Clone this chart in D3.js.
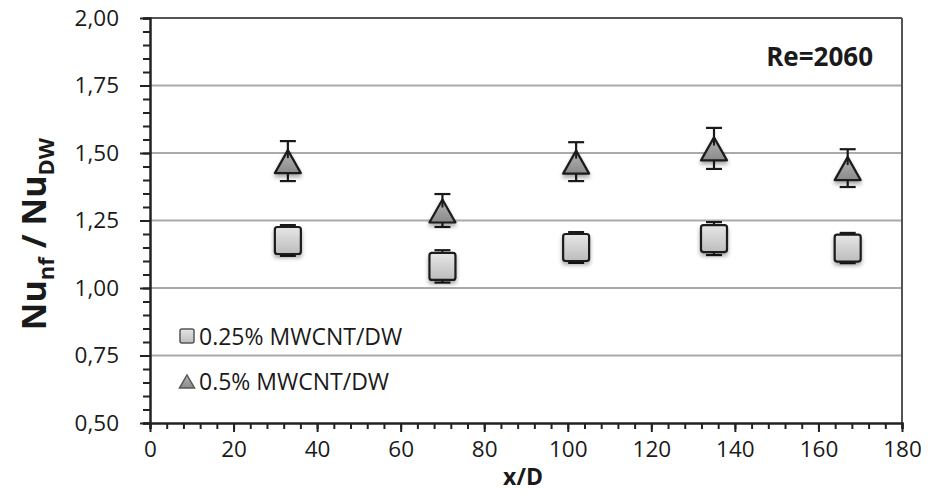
<!DOCTYPE html>
<html><head><meta charset="utf-8">
<script src="https://cdn.jsdelivr.net/npm/d3@7"></script>
<style>
body{margin:0;background:#fff;}
text{font-family:"Open Sans",sans-serif;fill:#1a1a1a;}
</style></head>
<body><svg id="c" width="939" height="493"></svg>
<script>
const xPos = [33, 70, 102, 135, 167];
const sqValues = [1.176, 1.080, 1.150, 1.183, 1.148];
const sqErrors = [0.057, 0.060, 0.057, 0.061, 0.056];
const triValues = [1.470, 1.287, 1.468, 1.517, 1.444];
const triErrors = [0.074, 0.061, 0.072, 0.076, 0.070];
const seriesNames = ["0.25% MWCNT/DW", "0.5% MWCNT/DW"];
const xTicks = [0,20,40,60,80,100,120,140,160,180];
const yTicks = [0.5,0.75,1.0,1.25,1.5,1.75,2.0];
const annotation = "Re=2060";

const svg = d3.select("#c");
const defs = svg.append("defs");
const f = defs.append("filter").attr("id","sh").attr("x","-50%").attr("y","-50%").attr("width","200%").attr("height","200%");
f.append("feGaussianBlur").attr("in","SourceAlpha").attr("stdDeviation",2);
f.append("feOffset").attr("dx",0).attr("dy",3).attr("result","ob");
f.append("feComponentTransfer").append("feFuncA").attr("type","linear").attr("slope",0.35);
const fm = f.append("feMerge"); fm.append("feMergeNode"); fm.append("feMergeNode").attr("in","SourceGraphic");
const g1 = defs.append("linearGradient").attr("id","gsq").attr("x1",0).attr("y1",0).attr("x2",0).attr("y2",1);
g1.append("stop").attr("offset","0%").attr("stop-color","#e6e6e6");
g1.append("stop").attr("offset","100%").attr("stop-color","#bdbdbd");
const g2 = defs.append("linearGradient").attr("id","gtri").attr("x1",0).attr("y1",0).attr("x2",0).attr("y2",1);
g2.append("stop").attr("offset","0%").attr("stop-color","#b5b5b5");
g2.append("stop").attr("offset","100%").attr("stop-color","#8a8a8a");

const L=150, R=902, T=18, B=423;
const x = d3.scaleLinear().domain([0,180]).range([L,R]);
const y = d3.scaleLinear().domain([0.5,2.0]).range([B,T]);

// gridlines
svg.append("g").selectAll("line").data(yTicks.filter(v=>v>0.5 && v<2.0)).join("line")
  .attr("x1",L).attr("x2",R).attr("y1",d=>y(d)).attr("y2",d=>y(d))
  .attr("stroke","#aaaaaa").attr("stroke-width",2);
// top and right frame
svg.append("line").attr("x1",L).attr("x2",R).attr("y1",T).attr("y2",T).attr("stroke","#555").attr("stroke-width",2);
svg.append("line").attr("x1",R).attr("x2",R).attr("y1",T).attr("y2",B).attr("stroke","#555").attr("stroke-width",2);

// y axis
const yMinor = d3.range(0.5,2.0001,0.05);
const ya = svg.append("g").attr("transform",`translate(${L},0)`)
  .call(d3.axisLeft(y).tickValues(yMinor).tickSize(7).tickFormat(""));
ya.selectAll("line").attr("stroke","#222").attr("stroke-width",2);
ya.select(".domain").attr("stroke","#222").attr("stroke-width",2.5);
const yb = svg.append("g").attr("transform",`translate(${L},0)`)
  .call(d3.axisLeft(y).tickValues(yTicks).tickSize(10).tickPadding(21)
  .tickFormat(d=>d3.format(".2f")(d).replace(".",",")));
yb.select(".domain").remove();
yb.selectAll("line").attr("stroke","#222").attr("stroke-width",2);
yb.selectAll("text").attr("font-size",22.5).attr("fill","#1a1a1a").style("font-family","Open Sans");

// x axis
const xMinor = d3.range(0,180.001,4);
const xa = svg.append("g").attr("transform",`translate(0,${B})`)
  .call(d3.axisBottom(x).tickValues(xMinor).tickSize(6).tickFormat(""));
xa.selectAll("line").attr("stroke","#222").attr("stroke-width",2);
xa.select(".domain").attr("stroke","#222").attr("stroke-width",2.5);
const xb = svg.append("g").attr("transform",`translate(0,${B})`)
  .call(d3.axisBottom(x).tickValues(xTicks).tickSize(9).tickPadding(9).tickFormat(d3.format("d")));
xb.select(".domain").remove();
xb.selectAll("line").attr("stroke","#222").attr("stroke-width",2);
xb.selectAll("text").attr("font-size",22.5).attr("fill","#1a1a1a").style("font-family","Open Sans");

// error bars
function errBars(vals, errs){
  const g = svg.append("g").attr("stroke","#1a1a1a").attr("stroke-width",2.2);
  vals.forEach((v,i)=>{
    const cx = x(xPos[i]);
    g.append("line").attr("x1",cx).attr("x2",cx).attr("y1",y(v+errs[i])).attr("y2",y(v-errs[i]));
    [v+errs[i], v-errs[i]].forEach(e=>{
      g.append("line").attr("x1",cx-8).attr("x2",cx+8).attr("y1",y(e)).attr("y2",y(e));
    });
  });
}
errBars(sqValues, sqErrors);
errBars(triValues, triErrors);

// squares
svg.append("g").selectAll("rect").data(sqValues).join("rect")
  .attr("x",(d,i)=>x(xPos[i])-13).attr("y",d=>y(d)-13.5).attr("width",26).attr("height",27)
  .attr("rx",2.5).attr("fill","url(#gsq)").attr("stroke","#1a1a1a").attr("stroke-width",2.2)
  .attr("filter","url(#sh)");
// triangles
svg.append("g").selectAll("path").data(triValues).join("path")
  .attr("d",(d,i)=>{const cx=x(xPos[i]), cy=y(d); return `M${cx},${cy-11} L${cx+13},${cy+12} L${cx-13},${cy+12} Z`;})
  .attr("fill","url(#gtri)").attr("stroke","#1a1a1a").attr("stroke-width",2.2).attr("stroke-linejoin","round")
  .attr("filter","url(#sh)");
const st = svg.append("g").attr("stroke","#1a1a1a").attr("stroke-width",2);
triValues.forEach((v,i)=>{const cx=x(xPos[i]); st.append("line").attr("x1",cx).attr("x2",cx).attr("y1",y(v)-11).attr("y2",y(v)-3);});

// legend
const lg = svg.append("g");
lg.append("rect").attr("x",180).attr("y",329).attr("width",14).attr("height",14).attr("rx",2)
  .attr("fill","url(#gsq)").attr("stroke","#555").attr("stroke-width",1.5);
lg.append("path").attr("d","M187,375 L194.5,388 L179.5,388 Z").attr("fill","url(#gtri)").attr("stroke","#555").attr("stroke-width",1.5);
lg.append("text").attr("x",199).attr("y",345).attr("font-size",23).text(seriesNames[0]);
lg.append("text").attr("x",199).attr("y",390).attr("font-size",23).text(seriesNames[1]);

// annotation
svg.append("text").attr("x",873).attr("y",66).attr("text-anchor","end").attr("font-size",26)
  .attr("font-weight","bold").text(annotation);

// axis titles
svg.append("text").attr("x",x(90)-3).attr("y",485).attr("text-anchor","middle").attr("font-size",23)
  .attr("font-weight","bold").text("x/D");
const yt = svg.append("text").attr("transform","translate(46,234) rotate(-90)").attr("text-anchor","middle")
  .attr("font-size",34).attr("font-weight","bold");
yt.append("tspan").text("Nu");
yt.append("tspan").attr("font-size",22).attr("dy",8).text("nf");
yt.append("tspan").attr("dy",-8).text(" / Nu");
yt.append("tspan").attr("font-size",22).attr("dy",8).text("DW");
</script></body></html>
